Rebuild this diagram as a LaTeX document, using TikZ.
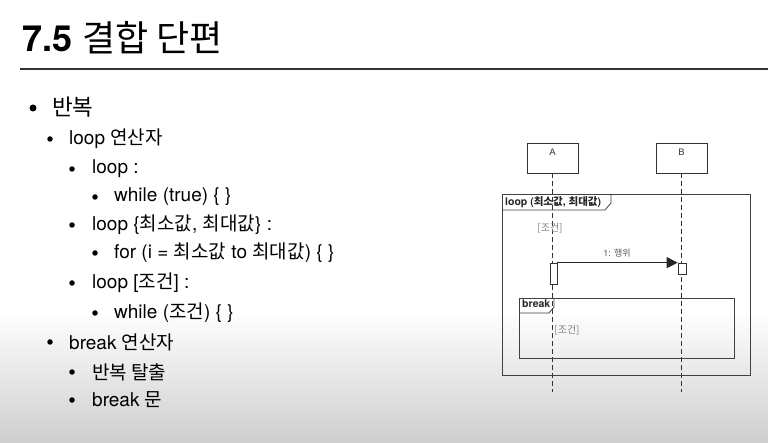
\documentclass[tikz,border=0pt]{standalone}
\usepackage{fontspec}
\setmainfont{TeX Gyre Heros}
\newfontfamily\kr{Noto Sans CJK KR}
\newfontfamily\krb{Noto Sans CJK KR Bold}
\newfontfamily\dg{Liberation Sans}
\usetikzlibrary{arrows.meta}
\begin{document}
\begin{tikzpicture}[x=1pt,y=-1pt,
  lvla/.style={anchor=west,inner sep=0pt,font=\fontsize{22.5}{26}\selectfont},
  lvlb/.style={anchor=west,inner sep=0pt,font=\fontsize{19}{22}\selectfont},
  bul/.style={circle,fill=black,inner sep=0pt,minimum size=5.5pt},
  bulA/.style={circle,fill=black,inner sep=0pt,minimum size=7pt},
  lifebox/.style={draw=black!80,fill=white,line width=0.7pt,minimum width=51pt,minimum height=30pt,inner sep=0pt},
  boxlab/.style={inner sep=0pt,font=\dg\fontsize{9.5}{10}\selectfont,text=black!80},
  lifeline/.style={draw=black!80,line width=0.7pt,dash pattern=on 5pt off 3pt},
  act/.style={draw=black!80,fill=white,line width=0.7pt,inner sep=0pt},
  frame/.style={draw=black!75,line width=0.8pt,inner sep=0pt},
  tablab/.style={anchor=north west,inner sep=0pt,font=\fontsize{10.5}{11}\selectfont\bfseries,text=black!85},
  guard/.style={inner sep=0pt,font=\kr\fontsize{10}{11}\selectfont,text=black!50},
  msg/.style={draw=black!85,line width=0.8pt,-{Triangle[length=11pt,width=11pt]}},
  msglab/.style={inner sep=0pt,font=\fontsize{9}{10}\selectfont,text=black!65}
]
\useasboundingbox (0,0) rectangle (768,443);
\fill[white] (0,0) rectangle (768,310);
\shade[top color=white,bottom color=black!19] (0,310) rectangle (768,443);

% title
\node[anchor=base west,inner sep=0pt,font=\fontsize{36}{40}\selectfont] (title) at (22,52) {{\bfseries 7.5} {\kr 결합 단편}};
\coordinate (rl) at (20,69);
\coordinate (rr) at (768,69);
\draw[black!80,line width=1.3pt] (rl) -- (rr);

% bullets
\node[bulA] (b1) at (33,108) {};
\node[lvla] (t1) at (52,107) {\kr 반복};
\node[bul] (b2) at (50,139) {};
\node[lvlb] (t2) at (69,139) {loop {\kr 연산자}};
\node[bul] (b3) at (72,169) {};
\node[lvlb] (t3) at (92,169) {loop :};
\node[bul] (b4) at (95,197) {};
\node[lvlb] (t4) at (114,197) {while (true) \{ \}};
\node[bul] (b5) at (72,225) {};
\node[lvlb] (t5) at (92,225) {loop \{{\kr 최소값}, {\kr 최대값}\} :};
\node[bul] (b6) at (95,253) {};
\node[lvlb] (t6) at (114,253) {for (i = {\kr 최소값} to {\kr 최대값}) \{ \}};
\node[bul] (b7) at (72,283) {};
\node[lvlb] (t7) at (92,283) {loop [{\kr 조건}] :};
\node[bul] (b8) at (95,313) {};
\node[lvlb] (t8) at (114,313) {while ({\kr 조건}) \{ \}};
\node[bul] (b9) at (50,342) {};
\node[lvlb] (t9) at (69,342) {break {\kr 연산자}};
\node[bul] (b10) at (72,372) {};
\node[lvlb] (t10) at (92,372) {\kr 반복 탈출};
\node[bul] (b11) at (72,400) {};
\node[lvlb] (t11) at (92,400) {break {\kr 문}};

% sequence diagram
\node[lifebox] (Abox) at (552.5,158) {};
\node[boxlab] (Alab) at (552.5,152) {A};
\node[lifebox] (Bbox) at (681.5,158) {};
\node[boxlab] (Blab) at (681.5,152) {B};
\coordinate (Aend) at (552.5,392);
\coordinate (Bend) at (681.5,392);
\draw[lifeline] (Abox) -- (Aend);
\draw[lifeline] (Bbox) -- (Bend);

% loop frame
\node[frame,minimum width=248pt,minimum height=181pt] (loopF) at (626,284.5) {};
\node[tablab] (loopL) at (505,196.5) {loop ({\krb 최소값}, {\krb 최대값})};
\coordinate (lt1) at (502,210);
\coordinate (lt2) at (605,210);
\coordinate (lt3) at (611,203);
\coordinate (lt4) at (611,194);
\draw[frame] (lt1) -- (lt2) -- (lt3) -- (lt4);
\node[guard] (g1) at (550,228) {[조건]};

% activations and message
\node[act,minimum width=7pt,minimum height=21pt] (actA) at (553.5,273.5) {};
\node[act,minimum width=8pt,minimum height=11pt] (actB) at (682,268.5) {};
\draw[msg] (actA.north east) -- (actB.north west);
\node[msglab] (m1) at (617,253) {1: {\kr 행위}};

% break frame
\node[frame,minimum width=215pt,minimum height=60pt] (brkF) at (626.5,328) {};
\node[tablab] (brkL) at (522,300) {break};
\coordinate (bt1) at (519,313);
\coordinate (bt2) at (549,313);
\coordinate (bt3) at (554,307);
\coordinate (bt4) at (554,298);
\draw[frame] (bt1) -- (bt2) -- (bt3) -- (bt4);
\node[guard] (g2) at (567,330) {[조건]};
\end{tikzpicture}
\end{document}
